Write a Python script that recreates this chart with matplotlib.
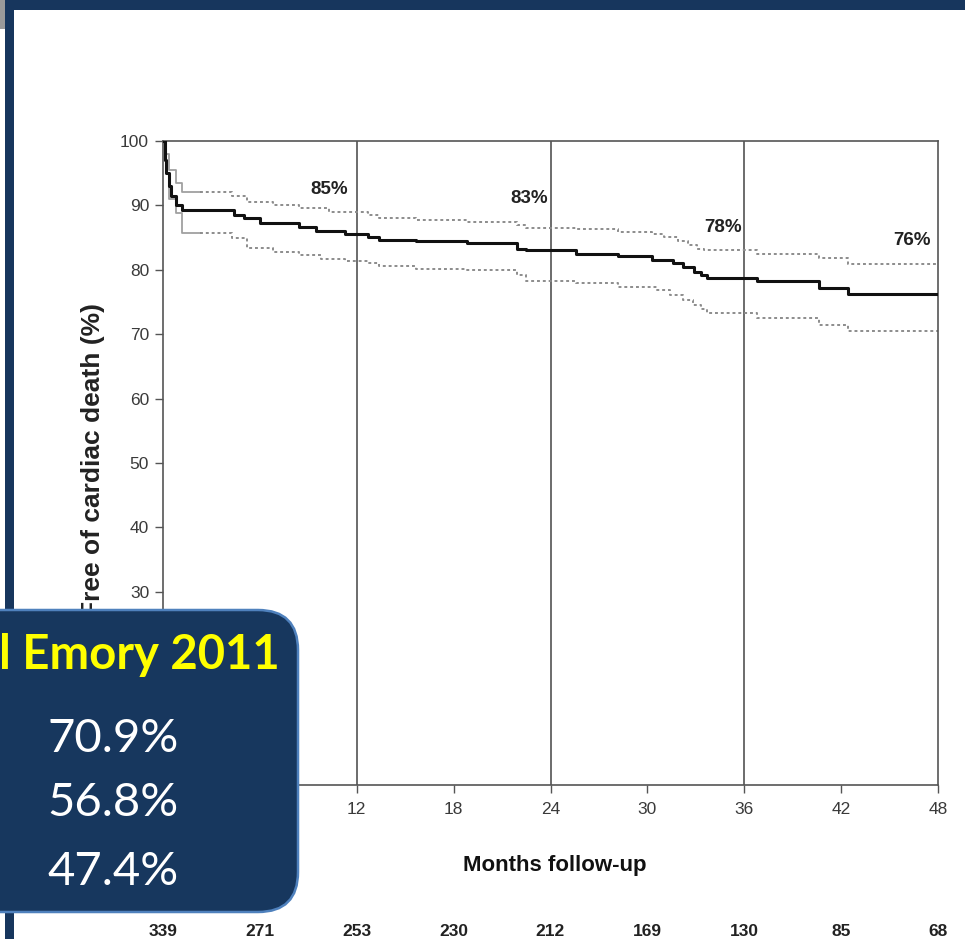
import matplotlib.pyplot as plt
import numpy as np
from matplotlib.patches import FancyBboxPatch, Rectangle
import matplotlib.transforms as mtrans

# Kaplan-Meier estimate (months, % free of cardiac death)
km_t = [0, 0.1, 0.2, 0.35, 0.5, 0.8, 1.2, 4.4, 5.0, 6.0, 8.4, 9.5, 11.3, 12.7, 13.4,
        15.7, 18.8, 21.9, 22.5, 25.6, 28.2, 30.3, 31.6, 32.2, 32.9, 33.3, 33.7,
        36.8, 40.6, 42.4, 48]
km_v = [100, 97, 95, 93, 91.4, 90, 89.3, 88.5, 88.0, 87.3, 86.6, 86.1, 85.5, 85.1, 84.7,
        84.4, 84.2, 83.3, 83.0, 82.5, 82.1, 81.5, 81.0, 80.4, 79.7, 79.2, 78.7,
        78.2, 77.2, 76.2, 76.2]

up_t = [0, 0.2, 0.4, 0.8, 1.2, 4.3, 5.2, 6.8, 8.4, 10.3, 12.7, 13.4, 15.7, 18.8, 21.9,
        22.5, 25.6, 28.2, 30.3, 31.0, 31.9, 32.5, 33.1, 33.5, 36.8, 40.6, 42.4, 48]
up_v = [100, 98, 95.5, 93.5, 92.1, 91.4, 90.6, 90.1, 89.6, 89.0, 88.5, 88.1, 87.7, 87.5, 87.0,
        86.5, 86.3, 85.9, 85.5, 85.1, 84.5, 83.9, 83.3, 83.0, 82.5, 81.8, 80.9, 80.9]

lo_t = [0, 0.2, 0.4, 0.8, 1.2, 4.3, 5.2, 6.8, 8.4, 9.8, 11.3, 12.7, 13.4, 15.7, 18.8,
        21.9, 22.5, 25.6, 28.2, 30.6, 31.4, 32.2, 32.8, 33.3, 33.7, 36.8, 40.6, 42.4, 48]
lo_v = [100, 95, 91, 88.8, 85.7, 84.9, 83.4, 82.8, 82.3, 81.6, 81.3, 81.0, 80.6, 80.2, 79.9,
        79.2, 78.3, 77.9, 77.4, 76.9, 76.1, 75.3, 74.5, 73.9, 73.3, 72.5, 71.4, 70.5, 70.5]

marks_x = [10.3, 22.7, 34.7, 46.4]
marks_y = [92.4, 91.1, 86.5, 84.5]
marks_txt = ['85%', '83%', '78%', '76%']

at_risk_months = [0, 6, 12, 18, 24, 30, 36, 42, 48]
at_risk = [339, 271, 253, 230, 212, 169, 130, 85, 68]

box_vals = ['70.9%', '56.8%', '47.4%']

navy = '#17365d'

fig = plt.figure(figsize=(9.65, 9.39), dpi=100)
ax = fig.add_axes([163 / 965, 1 - 785 / 939, 775 / 965, 644 / 939])

# CI: solid at the very start, dotted afterwards
split = 2.3
for tt, vv in [(up_t, up_v), (lo_t, lo_v)]:
    tt = np.array(tt)
    vv = np.array(vv)
    head = tt <= split
    ht = np.append(tt[head], split)
    hv = np.append(vv[head], vv[head][-1])
    ax.step(ht, hv, where='post', color='#a0a0a0', lw=1.3, zorder=2)
    ax.step(np.insert(tt[~head], 0, split), np.insert(vv[~head], 0, vv[head][-1]),
            where='post', color='#8c8c8c', lw=1.4, ls=(0, (1.5, 1.5)), zorder=2)

ax.step(km_t, km_v, where='post', color='#111111', lw=2.2, zorder=3)

for m in [12, 24, 36]:
    ax.axvline(m, color='#444444', lw=1.1, zorder=1)

for x, y, s in zip(marks_x, marks_y, marks_txt):
    ax.text(x, y, s, ha='center', va='center', fontsize=13.5, fontweight='bold',
            family='Liberation Sans', color='#222222')

ax.set_xlim(0, 48)
ax.set_ylim(0, 100)
ax.set_xticks(range(0, 49, 6))
ax.set_yticks(range(0, 101, 10))
for sp in ax.spines.values():
    sp.set_color('#555555')
    sp.set_linewidth(1.2)
ax.tick_params(direction='out', length=6, width=1, color='#555555',
               labelsize=12.5, labelcolor='#3a3a3a', pad=4)
for lab in ax.get_xticklabels() + ax.get_yticklabels():
    lab.set_family('Liberation Sans')
ax.tick_params(axis='x', pad=6)

fig.text(555 / 965, 1 - 866 / 939, 'Months follow-up', ha='center', va='center',
         fontsize=16, fontweight='bold', family='Liberation Sans', color='#111111')
fig.text(93 / 965, 1 - 460 / 939, 'Free of cardiac death (%)', ha='center', va='center',
         rotation=90, fontsize=19, fontweight='bold', family='Liberation Sans', color='#222222')

# number at risk row
trans = mtrans.blended_transform_factory(ax.transData, fig.transFigure)
for m, n in zip(at_risk_months, at_risk):
    ax.text(m, 1 - 931 / 939, str(n), transform=trans, ha='center', va='center',
            fontsize=12.5, fontweight='bold', family='Liberation Sans', color='#222222',
            clip_on=False)

# slide frame
fig.add_artist(Rectangle((0, 9.29), 9.65, 0.11, transform=fig.dpi_scale_trans,
                         facecolor=navy, edgecolor='none', zorder=5))
fig.add_artist(Rectangle((0.05, 0), 0.09, 9.39, transform=fig.dpi_scale_trans,
                         facecolor=navy, edgecolor='none', zorder=5))
fig.add_artist(Rectangle((0, 9.1), 0.05, 0.29, transform=fig.dpi_scale_trans,
                         facecolor='#9a9a9a', edgecolor='none', zorder=5))

# overlay box
box = FancyBboxPatch((-0.6, 0.27), 3.58, 3.02, boxstyle='round,pad=0,rounding_size=0.4',
                     transform=fig.dpi_scale_trans, facecolor='#17375e',
                     edgecolor='#4f81bd', lw=1.8, zorder=6)
fig.add_artist(box)
fig.text(280 / 965, 1 - 655 / 939, 'l Emory 2011', ha='right', va='center', fontsize=34,
         fontweight='bold', family='Lato', color='#ffff00', zorder=7)
for i, s in enumerate(box_vals):
    yy = [739, 803, 872][i]
    fig.text(47 / 965, 1 - yy / 939, s, ha='left', va='center', fontsize=34,
             family='Lato', color='white', zorder=7)

fig.savefig('out.png', dpi=100)
